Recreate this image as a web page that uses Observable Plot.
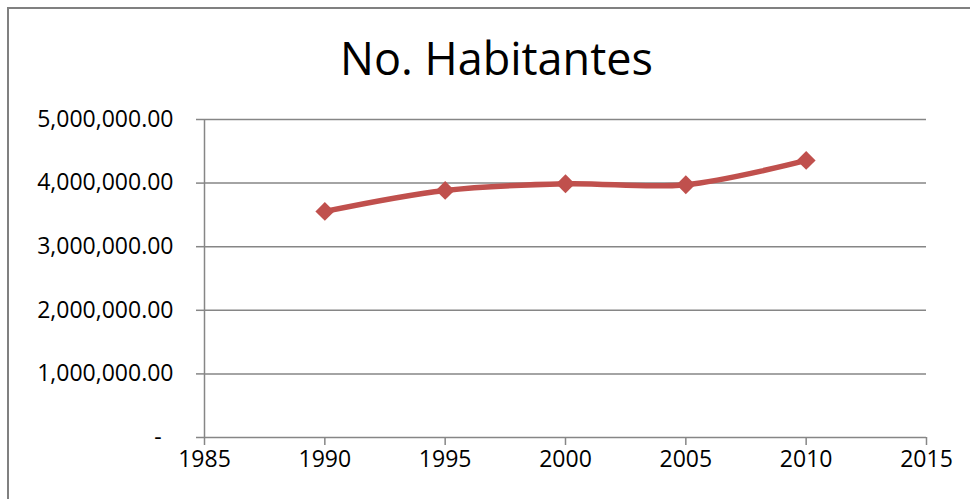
<!DOCTYPE html>
<html>
<head>
<meta charset="utf-8">
<script src="https://cdn.jsdelivr.net/npm/d3@7"></script>
<script src="https://cdn.jsdelivr.net/npm/@observablehq/plot@0.6"></script>
<style>
  html, body { margin: 0; padding: 0; background: #fff; }
  #wrap { position: relative; width: 970px; height: 499px; overflow: hidden; }
  #border { position: absolute; left: 7px; top: 7px; width: 980px; height: 510px;
            border-top: 2px solid #808080; border-left: 2px solid #808080; pointer-events: none; }
</style>
</head>
<body>
<div id="wrap"><div id="border"></div></div>
<script>
const title = "No. Habitantes";
const years = [1990, 1995, 2000, 2005, 2010];
const habitantes = [3555000, 3885000, 3990000, 3975000, 4357000];
const xTicks = [1985, 1990, 1995, 2000, 2005, 2010, 2015];
const yTicks = [0, 1000000, 2000000, 3000000, 4000000, 5000000];

const data = years.map((y, i) => ({year: y, value: habitantes[i]}));
const fmt = d3.format(",.2f");
const grey = "#868686";
const red = "#C0504D";
const font = "'Open Sans', sans-serif";

const chart = Plot.plot({
  width: 970,
  height: 499,
  marginLeft: 204,
  marginRight: 44,
  marginTop: 119,
  marginBottom: 62,
  style: {fontFamily: font, fontSize: "23px", color: "#000", background: "transparent"},
  x: {domain: [1985, 2015]},
  y: {domain: [0, 5000000]},
  marks: [
    Plot.ruleY(yTicks, {stroke: grey, strokeWidth: 1.5}),
    Plot.ruleX([1985], {stroke: grey, strokeWidth: 1.5}),
    Plot.axisY({ticks: yTicks, tickSize: 8, tickPadding: 23, stroke: grey, strokeWidth: 1.5, strokeOpacity: 1,
                fontSize: 23, tickFormat: d => d === 0 ? "-\u00a0\u00a0" : fmt(d), label: null}),
    Plot.axisX({ticks: xTicks, tickSize: 8, tickPadding: 5, stroke: grey, strokeWidth: 1.5, strokeOpacity: 1,
                fontSize: 23, tickFormat: d => String(d), label: null}),
    Plot.line(data, {x: "year", y: "value", stroke: red, strokeWidth: 5.5, curve: "catmull-rom"}),
    Plot.dot(data, {x: "year", y: "value", symbol: "diamond2", r: 8.5, fill: red, stroke: "none"}),
    Plot.text([title], {text: d => d, frameAnchor: "top", dx: -69, dy: -76, fontSize: 45,
                        fontFamily: font, fill: "#000"})
  ]
});
document.getElementById("wrap").prepend(chart);
</script>
</body>
</html>
